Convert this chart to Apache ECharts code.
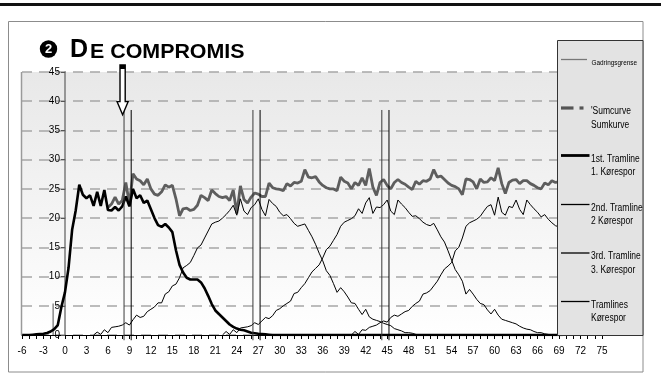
<!DOCTYPE html>
<html>
<head>
<meta charset="utf-8">
<script src="https://cdn.jsdelivr.net/npm/echarts@6/dist/echarts.min.js"></script>
<style>
  html, body { margin: 0; padding: 0; background: #ffffff; }
  #chart { width: 661px; height: 384px; }
</style>
</head>
<body>
<div id="chart"></div>
<script>
// Sampling step along the field (metres) for every measured curve
const STEP = 0.5;

// Sum of all spray tracks, from 6 m onwards (below 6 m it equals track 1)
const sumStart = 6;
const sumCurve = [
  21.8, 22.4, 23.6, 22.4, 23.0, 26.1, 22.4, 27.6, 26.7, 26.4, 25.7, 26.7,
  25.0, 24.1, 23.9, 24.5, 25.7, 25.3, 25.6, 23.3, 20.4, 21.6, 21.7, 21.3,
  21.5, 22.2, 23.9, 23.5, 23.0, 24.8, 24.2, 23.7, 23.5, 23.7, 23.0, 24.8,
  20.8, 25.5, 23.2, 22.6, 23.6, 24.3, 24.1, 23.7, 23.7, 26.0, 25.2, 25.0,
  24.9, 24.7, 25.9, 25.5, 26.1, 26.0, 26.3, 28.3, 27.0, 26.9, 27.1, 26.2,
  25.6, 25.2, 25.0, 25.0, 24.7, 27.0, 26.3, 26.0, 25.0, 26.1, 25.6, 26.9,
  25.6, 28.5, 25.3, 23.9, 26.1, 26.6, 25.6, 25.0, 26.1, 26.6, 26.1, 25.8,
  25.3, 24.9, 26.3, 25.8, 26.4, 26.3, 26.7, 28.3, 27.0, 27.2, 26.6, 26.0,
  25.6, 25.4, 25.0, 24.0, 26.7, 26.6, 26.2, 25.0, 26.7, 26.1, 26.2, 26.9,
  26.4, 28.6, 25.9, 24.2, 26.1, 26.5, 26.6, 25.9, 26.4, 26.4, 25.9, 25.6,
  25.2, 25.0, 26.0, 25.7, 26.4, 26.1, 26.2, 26.0
];

// 1st tramline, from -6 m
const track1Start = -6;
const track1 = [
  0, 0, 0, 0.05, 0.1, 0.15, 0.2, 0.35, 0.6, 1.0, 1.7, 4.8,
  7.3, 11.5, 18.0, 21.3, 25.7, 24.0, 23.4, 23.9, 22.1, 24.5, 22.1, 24.8,
  21.4, 21.3, 21.9, 21.3, 22.0, 23.7, 22.0, 25.0, 23.4, 23.9, 22.6, 23.0,
  21.5, 20.0, 18.8, 18.5, 19.0, 18.4, 17.6, 14.5, 12.0, 10.7, 9.8, 9.5,
  9.5, 9.5, 9.0, 8.0, 6.7, 5.3, 4.2, 3.6, 3.0, 2.4, 1.8, 1.4,
  1.1, 0.9, 0.8, 0.6, 0.4, 0.3, 0.2, 0.15, 0.1, 0.05, 0
];

// 2nd tramline, from 4 m
const track2Start = 4;
const track2 = [
  0, 0.5, 0.1, 0.9, 0.4, 1.3, 1.4, 1.5, 1.7, 2.1, 1.7, 2.6,
  3.4, 3.0, 3.2, 4.0, 4.4, 4.8, 5.5, 5.5, 7.0, 7.4, 8.4, 8.7,
  9.8, 11.5, 11.9, 12.4, 13.6, 14.9, 15.4, 16.6, 17.8, 19.0, 19.3, 19.5,
  20.0, 20.6, 21.3, 22.2, 20.5, 23.3, 21.2, 20.6, 21.8, 22.3, 23.3, 21.5,
  20.4, 23.2, 22.5, 22.0, 21.0, 20.4, 20.6, 19.9, 19.1, 18.6, 18.8, 19.0,
  17.9, 16.8, 15.5, 14.0, 12.7, 11.0, 10.2, 8.8, 7.3, 8.1, 7.4, 6.5,
  5.5, 5.4, 4.4, 3.5, 4.4, 3.1, 2.7, 2.5, 2.3, 2.0, 1.8, 1.6,
  1.1, 0.9, 0.7, 0.4, 0.4, 0.3, 0.1, 0
];

// 3rd tramline, from 22 m
const track3Start = 22;
const track3 = [
  0, 0.6, 0.1, 0.9, 0.4, 1.2, 1.3, 1.4, 1.6, 2.1, 1.8, 2.4,
  3.0, 2.8, 3.3, 4.2, 4.5, 5.0, 5.4, 5.8, 7.1, 7.3, 8.1, 8.8,
  9.8, 10.8, 11.4, 12.0, 13.2, 14.6, 15.2, 16.2, 17.2, 18.6, 19.3, 19.6,
  19.9, 20.4, 21.6, 20.8, 22.6, 23.5, 20.8, 21.9, 21.8, 22.3, 23.1, 21.2,
  20.6, 23.1, 22.4, 21.8, 21.0, 20.3, 20.4, 19.9, 19.3, 18.9, 18.7, 19.1,
  18.0, 16.8, 15.9, 14.4, 12.8, 11.2, 10.3, 9.2, 7.0, 7.8, 7.0, 6.1,
  5.4, 5.2, 4.3, 3.6, 4.4, 3.4, 2.7, 2.5, 2.3, 2.1, 1.9, 1.5,
  1.2, 1.0, 0.9, 0.6, 0.4, 0.4, 0.2, 0.1, 0
];

// 4th tramline, from 40 m
const track4Start = 40;
const track4 = [
  0, 0.6, 0.1, 0.9, 0.8, 1.3, 1.5, 1.7, 2.1, 2.4, 2.2, 3.0,
  3.4, 3.2, 3.6, 4.0, 4.2, 4.9, 5.4, 5.8, 7.0, 7.2, 7.6, 8.4,
  9.2, 10.3, 11.3, 11.8, 12.4, 14.4, 15.0, 16.6, 18.6, 19.2, 19.5, 19.8,
  20.3, 21.2, 22.0, 22.3, 20.5, 23.6, 21.0, 20.5, 22.0, 21.8, 23.1, 21.5,
  20.6, 23.1, 22.3, 21.6, 21.0, 20.2, 20.6, 19.8, 19.2, 18.7, 18.5, 18.2
];

// Track 1 lies on the ground line up to this distance
const fieldEnd = 69.5;

// Tramline wheel tracks (pairs of vertical marks) and their extent
const tramlinePairs = [[8.25, 9.25], [26.25, 27.25], [44.25, 45.25]];
const tramlineTop = 38.5;
const tramlineBottom = -0.9;

// Field edge limit (Gadringsgrense)
const edgeLimitX = -1.65;
const edgeLimitTop = 5.4;

// Driving arrow: tip and tail in data units
const arrowX = 8.05;
const arrowTipY = 37.7;
const arrowTailY = 46.2;

// Axis ranges
const xMin = -6, xMax = 75, xInterval = 3;
const yMin = 0, yMax = 45, yInterval = 5;
// the value axis is drawn through this distance
const yAxisAt = 0;

// Legend entries
const legendEntries = [
  { lines: ['Gadringsgrense'], kind: 'edge' },
  { lines: ["'Sumcurve", 'Sumkurve'], kind: 'sum' },
  { lines: ['1st. Tramline', '1. Kørespor'], kind: 'thick' },
  { lines: ['2nd. Tramline', '2 Kørespor'], kind: 'thin' },
  { lines: ['3rd. Tramline', '3. Kørespor'], kind: 'thin' },
  { lines: ['Tramlines', 'Kørespor'], kind: 'thin' }
];

const FONT = '"Liberation Sans", Arial, sans-serif';

function toPairs(start, values) {
  return values.map((v, i) => [start + i * STEP, v]);
}

const base = {
  type: 'line', symbol: 'none', silent: true, animation: false
};

const series = [
  Object.assign({}, base, {
    name: 'Sumkurve', data: toPairs(sumStart, sumCurve), z: 2,
    lineStyle: { color: '#5e5e5e', width: 2.8 }
  }),
  Object.assign({}, base, {
    name: '1st. Tramline',
    data: toPairs(track1Start, track1).concat([[fieldEnd, 0]]), z: 4,
    lineStyle: { color: '#000000', width: 2.6 }
  }),
  Object.assign({}, base, {
    name: '2nd. Tramline', data: toPairs(track2Start, track2), z: 3,
    lineStyle: { color: '#000000', width: 1 }
  }),
  Object.assign({}, base, {
    name: '3rd. Tramline', data: toPairs(track3Start, track3), z: 3,
    lineStyle: { color: '#000000', width: 1 }
  }),
  Object.assign({}, base, {
    name: 'Tramlines', data: toPairs(track4Start, track4), z: 3,
    lineStyle: { color: '#000000', width: 1 }
  }),
  Object.assign({}, base, {
    name: 'Gadringsgrense', clip: false, z: 3,
    data: [[edgeLimitX, 0], [edgeLimitX, edgeLimitTop]],
    lineStyle: { color: '#8a8a8a', width: 1.5 }
  })
];

tramlinePairs.forEach(pair => {
  pair.forEach((x, k) => {
    series.push(Object.assign({}, base, {
      name: 'Kørespor', clip: false, z: 5,
      data: [[x, tramlineBottom], [x, tramlineTop]],
      lineStyle: { color: k === 0 ? '#3a3a3a' : '#000000', width: 1 }
    }));
  });
});

const chart = echarts.init(document.getElementById('chart'), null, { renderer: 'canvas' });

const option = {
  animation: false,
  backgroundColor: '#ffffff',
  textStyle: { fontFamily: FONT },
  grid: {
    left: 22, right: 59, top: 72, bottom: 49,
    show: true, borderWidth: 0,
    backgroundColor: new echarts.graphic.LinearGradient(0, 0, 0, 1, [
      { offset: 0, color: '#e8e8e8' },
      { offset: 1, color: '#ffffff' }
    ])
  },
  xAxis: {
    type: 'value', min: xMin, max: xMax, interval: xInterval,
    axisLine: { show: true, onZero: false, lineStyle: { color: '#000000', width: 1 } },
    axisTick: { show: true, length: 4, lineStyle: { color: '#000000' } },
    minorTick: { show: true, splitNumber: 3, length: 4, lineStyle: { color: '#000000' } },
    axisLabel: { fontSize: 10, color: '#000000', margin: 11, fontFamily: FONT },
    splitLine: { show: false }
  },
  yAxis: {
    type: 'value', min: yMin, max: yMax, interval: yInterval, position: 'left', offset: 0,
    axisLine: { show: true, onZero: false, lineStyle: { color: '#7a7a7a', width: 1.5 } },
    axisTick: { show: true, length: 4, lineStyle: { color: '#555555' } },
    axisLabel: { fontSize: 10, color: '#000000', margin: 5, fontFamily: FONT },
    splitLine: { show: true, lineStyle: { color: '#a6a6a6', width: 1.5, type: [10, 7] } }
  },
  series: series
};

chart.setOption(option);

// shift the value axis so it runs through x = yAxisAt
const pxAt = chart.convertToPixel({ xAxisIndex: 0 }, yAxisAt);
const pxMin = chart.convertToPixel({ xAxisIndex: 0 }, xMin);
chart.setOption({ yAxis: { offset: -(pxAt - pxMin) } });

// Frame, title, legend and arrow
function buildGraphics() {
  const g = [];
  // heavy rule across the top of the page
  g.push({ type: 'rect', z: 100, shape: { x: 0, y: 3, width: 661, height: 3 }, style: { fill: '#111111' } });
  // outer frame
  g.push({ type: 'rect', z: 100, shape: { x: 8.5, y: 21.5, width: 634.5, height: 350.5 },
    style: { fill: null, stroke: '#8c8c8c', lineWidth: 1 } });

  // left edge of the plotting area
  const pTop = chart.convertToPixel({ gridIndex: 0 }, [xMin, yMax]);
  const pBot = chart.convertToPixel({ gridIndex: 0 }, [xMin, yMin]);
  g.push({ type: 'line', z: 50, shape: { x1: pTop[0] - 0.5, y1: pTop[1], x2: pBot[0] - 0.5, y2: pBot[1] },
    style: { stroke: '#9a9a9a', lineWidth: 1.5 } });

  // title: numbered bullet, then small-caps heading
  g.push({ type: 'circle', z: 100, shape: { cx: 48.5, cy: 49, r: 8.7 }, style: { fill: '#000000' } });
  g.push({ type: 'text', z: 101, x: 48.5, y: 49.5,
    style: { text: '2', font: 'bold 13px ' + FONT, fill: '#ffffff', align: 'center', verticalAlign: 'middle' } });
  g.push({ type: 'text', z: 100, x: 70, y: 50,
    style: { text: 'D', font: 'bold 25px ' + FONT, fill: '#000', verticalAlign: 'middle' } });
  g.push({ type: 'text', z: 100, x: 90, y: 52.3, scaleX: 1.07,
    style: { text: 'E COMPROMIS', font: 'bold 20px ' + FONT, fill: '#000', verticalAlign: 'middle' } });

  // legend panel
  const lx = 557, ly = 40, lw = 86, lh = 295;
  g.push({ type: 'rect', z: 110, shape: { x: lx + 0.5, y: ly + 0.5, width: lw - 0.5, height: lh },
    style: { fill: '#e3e3e3', stroke: '#333333', lineWidth: 1 } });
  const rowY = [59.5, 108, 155.5, 204.5, 253, 301.5];
  legendEntries.forEach((e, i) => {
    const y = rowY[i];
    if (e.kind === 'edge') {
      g.push({ type: 'line', z: 111, shape: { x1: 561, y1: y, x2: 587, y2: y },
        style: { stroke: '#777777', lineWidth: 1.3 } });
    } else if (e.kind === 'sum') {
      g.push({ type: 'line', z: 111, shape: { x1: 561, y1: y, x2: 573.5, y2: y },
        style: { stroke: '#555555', lineWidth: 3.2 } });
      g.push({ type: 'line', z: 111, shape: { x1: 579.5, y1: y, x2: 583.5, y2: y },
        style: { stroke: '#555555', lineWidth: 3.2 } });
    } else {
      g.push({ type: 'line', z: 111, shape: { x1: 561, y1: y, x2: 589.5, y2: y },
        style: { stroke: '#000000', lineWidth: e.kind === 'thick' ? 2.8 : 1.3 } });
    }
    e.lines.forEach((t, k) => {
      const small = e.kind === 'edge';
      g.push({ type: 'text', z: 112, x: small ? 591.5 : 591, y: y + (small ? 3 : 3.5) + k * 13.5,
        scaleX: small ? 0.8 : 0.85,
        style: { text: t, font: (small ? '8px ' : '10px ') + FONT, fill: '#000', verticalAlign: 'middle' } });
    });
  });

  // driving arrow, placed through the axes
  const tip = chart.convertToPixel({ gridIndex: 0 }, [arrowX, arrowTipY]);
  const tail = chart.convertToPixel({ gridIndex: 0 }, [arrowX, arrowTailY]);
  const tx = tip[0], ty = tip[1], top = tail[1];
  const sw = 2.6, hw = 5.5, hh = 13;
  g.push({ type: 'polygon', z: 120,
    shape: { points: [[tx - sw, top], [tx + sw, top], [tx + sw, ty - hh], [tx + hw, ty - hh],
      [tx, ty], [tx - hw, ty - hh], [tx - sw, ty - hh]] },
    style: { fill: '#ffffff', stroke: '#000000', lineWidth: 1.4 } });
  g.push({ type: 'rect', z: 121, shape: { x: tx - sw, y: top, width: 2 * sw, height: 4 },
    style: { fill: '#000000' } });
  return g;
}

chart.setOption({ graphic: buildGraphics() });
</script>
</body>
</html>
